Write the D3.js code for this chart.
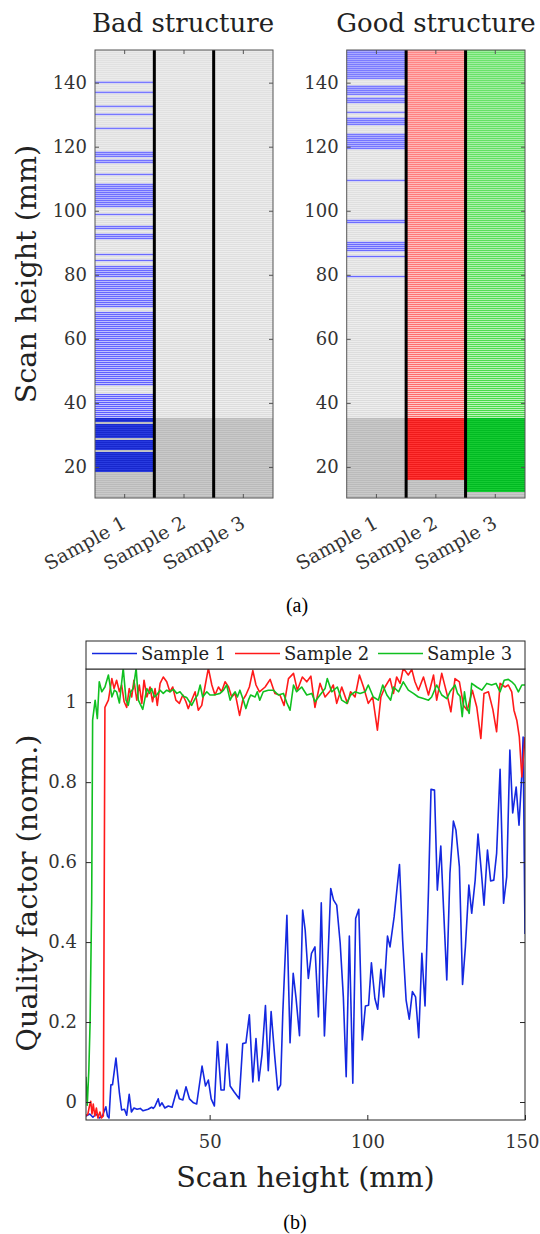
<!DOCTYPE html>
<html><head><meta charset="utf-8">
<script src="https://cdn.jsdelivr.net/npm/d3@7"></script>
<style>body{margin:0;background:#fff} svg{display:block}</style>
</head><body>
<svg id="c" width="540" height="1234"></svg>
<script>
// ---------------- DATA ----------------
const samples = ["Sample 1", "Sample 2", "Sample 3"];
const panelTitles = ["Bad structure", "Good structure"];
const heightTicks = [20, 40, 60, 80, 100, 120, 140];
const qualityTicks = [0, 0.2, 0.4, 0.6, 0.8, 1];
const scanTicks = [50, 100, 150];
const scanStart = 10.3, scanEnd = 150.2, scanStep = 0.625;
const shadedBelow = 35.5;

// scan heights (mm) flagged per sample, as [from, to] intervals
const badS1 = [[139.6,140.2],[136.6,137.2],[131.9,133.1],[129.6,130.2],[125.1,125.7],[116.8,118.2],[115.4,116.2],[114.5,115.0],[110.9,111.5],[101.2,108.4],[98.4,99.0],[93.9,95.1],[90.7,93.0],[85.9,86.5],[84.3,84.9],[79.3,82.6],[69.4,78.4],[45.0,68.6],[35.5,43.0],[34.2,35.5],[29.2,33.5],[25.3,28.5],[18.4,24.6]];
const badS2 = [];
const badS3 = [];
const goodS1 = [[140.8,150.2],[136.2,138.8],[133.6,135.6],[130.6,131.2],[126.8,128.9],[119.0,124.2],[109.0,109.6],[96.1,97.1],[87.2,90.3],[85.1,85.7],[79.1,79.7]];
const goodS2 = [[16.2,150.2]];
const goodS3 = [[12.4,150.2]];

// quality factor vs scan height: [height mm, quality]
const sample1Line = [[10.8,-0.035],[12,-0.03],[13,-0.038],[14,-0.03],[15,-0.04],[16,-0.035],[17.1,-0.012],[17.6,-0.035],[18.1,-0.04],[18.7,0.043],[19.2,0.043],[20.3,0.11],[21.4,0.022],[22.1,-0.02],[23,-0.018],[23.7,-0.033],[24.5,0.019],[25.2,-0.025],[26,-0.015],[27,-0.018],[28,-0.016],[28.9,-0.022],[29.7,-0.02],[30.5,-0.018],[31.6,-0.013],[32.1,-0.016],[32.6,-0.012],[33.7,0.008],[34.2,-0.01],[34.9,-0.002],[35.8,-0.015],[36.9,-0.01],[38.1,-0.013],[39.6,0.03],[40.4,0.008],[41.5,0.005],[42.5,0.038],[43.6,0.008],[44.9,-0.002],[45.9,-0.005],[47.6,0.09],[48.7,0.04],[49.6,0.055],[50.5,0.008],[51.5,-0.01],[52.5,0.151],[53.6,0.03],[54.6,0.03],[55.5,0.145],[56.5,0.04],[57.8,0.025],[59.4,0.008],[60.5,0.146],[61.5,0.148],[62.6,0.218],[63.7,0.05],[64.7,0.159],[65.6,0.053],[66.6,0.118],[67.7,0.241],[68.6,0.078],[69.5,0.226],[70.6,0.118],[71.6,0.03],[72.5,0.043],[73.2,0.222],[74.5,0.467],[75.5,0.148],[76.5,0.322],[77.4,0.26],[78.5,0.166],[79.5,0.48],[80.3,0.43],[81.3,0.309],[82.3,0.372],[83.4,0.388],[84.5,0.213],[85.4,0.498],[86.4,0.165],[87.5,0.355],[88.4,0.534],[89.3,0.505],[90.3,0.4925],[91.4,0.397],[92.4,0.263],[93.3,0.063],[94.3,0.415],[95.4,0.047],[96.3,0.459],[97.3,0.482],[98.4,0.155],[99.4,0.24],[100.4,0.242],[101.3,0.348],[102.4,0.259],[103.3,0.232],[104.3,0.332],[105.2,0.263],[106.4,0.415],[107.2,0.388],[108.5,0.463],[110.2,0.594],[111.2,0.405],[112.3,0.255],[113.3,0.207],[114.3,0.276],[115.3,0.263],[116.3,0.161],[117.3,0.372],[118.3,0.24],[119.4,0.53],[120.2,0.782],[121.3,0.78],[122.2,0.53],[123.3,0.64],[124.2,0.48],[125.2,0.305],[126.2,0.572],[127.3,0.7025],[128.1,0.68],[129.2,0.588],[130.2,0.294],[131.1,0.388],[132.2,0.5425],[133.1,0.472],[134.2,0.555],[135.1,0.67],[136.2,0.572],[137,0.4925],[138.1,0.63],[139.1,0.553],[140.1,0.555],[141,0.622],[142.1,0.832],[143.2,0.497],[144.2,0.563],[145.2,0.88],[146.1,0.723],[147.2,0.788],[148.1,0.6925],[149,0.82],[149.4,0.913],[150,0.42]];

const sample2Line = [[10.8,-0.035],[11.4,-0.03],[11.9,-0.01],[12.3,0.002],[12.7,-0.03],[13.1,-0.005],[13.6,-0.035],[14.1,-0.015],[14.6,-0.04],[15.2,-0.025],[15.7,-0.04],[16.3,-0.035],[16.8,0.987],[17.9,1.005],[19.0,1.059],[19.7,1.034],[20.5,1.055],[21.4,1.026],[22.1,1.043],[22.9,1.001],[23.7,0.987],[24.5,1.034],[25.3,1.013],[26.0,1.055],[26.9,1.005],[27.7,1.043],[28.5,0.997],[29.2,1.055],[30.1,1.013],[31.1,1.038],[31.9,1.001],[32.7,1.034],[33.4,0.992],[34.3,1.047],[35.3,1.063],[36.4,1.051],[37.4,1.026],[38.3,1.038],[39.3,1.005],[40.4,0.997],[41.5,1.018],[42.5,1.001],[43.2,0.984],[44.3,1.005],[45.4,1.026],[46.4,0.98],[47.5,0.992],[48.5,1.038],[49.6,1.085],[50.7,1.043],[51.7,1.018],[52.8,1.038],[53.8,1.026],[54.9,1.051],[56.0,1.038],[57.0,1.013],[58.1,1.022],[59.5,0.967],[60.5,1.005],[61.5,1.018],[62.6,1.038],[63.7,1.079],[64.7,1.043],[65.8,1.026],[67.6,1.038],[69.2,1.057],[70.7,1.022],[72.3,1.018],[73.6,0.992],[75.0,1.059],[76.6,1.072],[77.8,1.03],[79.4,1.063],[80.8,1.051],[82.1,1.065],[83.4,0.987],[85.0,1.047],[86.6,1.013],[88.2,1.028],[89.2,1.043],[90.3,0.997],[91.9,1.038],[93.7,0.997],[94.7,1.026],[96.1,1.013],[97.5,1.068],[98.8,1.038],[100.3,0.997],[101.7,1.013],[103.2,0.93],[104.3,1.013],[105.6,1.038],[107.2,1.059],[108.3,1.022],[109.3,1.063],[110.4,1.047],[111.4,1.085],[113.0,1.068],[114.1,1.082],[115.1,1.051],[116.2,1.03],[117.8,1.063],[119.4,1.018],[121.0,1.068],[122.0,1.005],[123.6,1.072],[125.2,1.022],[126.5,0.976],[127.8,1.059],[129.2,1.051],[130.5,0.992],[131.7,0.98],[133.3,1.03],[134.7,0.988],[136.0,0.909],[137.0,1.022],[138.4,1.026],[139.8,0.982],[141.0,0.926],[142.1,1.047],[143.7,1.038],[144.7,1.043],[145.8,1.026],[146.5,0.98],[147.4,0.955],[148.2,0.913],[149.0,0.813],[150.0,0.913]];

const sample3Line = [[10.8,0.063],[11.2,-0.008],[11.7,0.08],[12.1,0.2],[12.6,0.5],[12.9,0.955],[13.7,1.005],[14.4,0.959],[15.0,1.051],[15.8,1.026],[16.8,1.038],[17.9,1.068],[19.0,1.013],[19.8,1.03],[20.5,1.026],[21.4,0.998],[22.6,1.085],[23.5,1.005],[24.2,0.992],[25.0,1.026],[25.8,1.034],[26.7,1.085],[27.4,1.005],[28.8,0.982],[30.1,1.034],[30.9,1.022],[31.6,1.034],[32.5,1.013],[33.2,1.018],[34.3,1.03],[35.3,1.022],[36.4,1.03],[37.4,1.026],[38.5,1.032],[39.6,1.022],[40.6,1.026],[41.7,1.015],[42.7,1.012],[43.6,1.001],[44.3,0.992],[45.4,1.009],[46.2,1.018],[47.0,1.043],[47.8,1.013],[49.1,1.026],[50.1,1.018],[51.2,1.018],[52.3,1.02],[53.3,1.022],[54.4,1.03],[55.4,1.043],[56.5,1.005],[57.3,1.018],[58.1,1.026],[58.8,1.013],[59.6,1.03],[60.7,1.005],[61.5,0.984],[62.3,1.005],[63.0,1.018],[64.4,1.013],[65.1,1.026],[65.9,1.005],[67.0,1.026],[68.6,1.03],[70.2,1.03],[71.8,1.018],[73.4,1.022],[74.5,0.998],[75.5,0.98],[76.6,1.043],[77.6,1.026],[79.2,1.038],[80.8,1.018],[82.4,1.022],[83.4,1.001],[85.0,1.018],[86.6,1.034],[87.3,1.059],[88.7,1.026],[90.5,1.038],[91.9,1.005],[93.5,0.997],[94.7,1.018],[96.1,1.026],[97.7,1.022],[99.3,1.026],[100.3,1.043],[101.9,1.013],[103.5,1.005],[104.9,1.043],[106.2,1.018],[107.4,1.005],[108.3,1.038],[109.9,1.026],[111.4,1.051],[113.0,1.03],[114.6,1.022],[116.2,1.013],[117.8,1.009],[119.4,1.005],[120.4,1.013],[122.0,1.043],[123.6,1.018],[125.2,1.009],[126.2,1.026],[127.8,1.043],[128.6,1.022],[129.4,1.015],[130.1,0.964],[130.8,1.026],[131.5,0.988],[132.3,0.972],[133.1,1.047],[134.7,1.038],[136.3,1.03],[137.9,1.047],[139.4,1.043],[140.8,1.047],[142.1,1.026],[143.4,1.055],[144.7,1.057],[145.8,1.051],[146.8,1.043],[147.9,1.026],[149.0,1.043],[150.0,1.043]];

// ---------------- STYLE ----------------
const serif = "'DejaVu Serif', serif";
const textCol = "#333";
const pal = {
  grey:  {light:{bg:"#efefef", ln:"#dadada"}, dark:{bg:"#cacaca", ln:"#bababa"}},
  blue:  {light:{bg:"#cacaff", ln:"#5050ff"}, dark:{bg:"#2a3ce0", ln:"#1626cc"}},
  red:   {light:{bg:"#ffd0d0", ln:"#ff5c5c"}, dark:{bg:"#ff3434", ln:"#ee1a1a"}},
  green: {light:{bg:"#c4f6c4", ln:"#3ad83a"}, dark:{bg:"#16cc34", ln:"#00ba22"}}
};
const sampleHue = ["blue", "red", "green"];
const lineCol = ["#1428e0", "#ff1a1a", "#10c020"];

const svg = d3.select("#c");

// ---------------- TOP PANELS ----------------
const yTop = d3.scaleLinear().domain([10.3, 150.2]).range([498, 50]);
const scanLines = d3.range(scanStart, scanEnd - 1e-9, scanStep);
const panels = [
  {title: panelTitles[0], x0: 95, x1: 273, cols: [badS1, badS2, badS3], tcx: 183},
  {title: panelTitles[1], x0: 346.7, x1: 525, cols: [goodS1, goodS2, goodS3], tcx: 436}
];
const defs = svg.append("defs");

panels.forEach((p, pi) => {
  const xb = d3.scaleBand().domain(samples).range([p.x0, p.x1]);
  const clipId = "pclip" + pi;
  defs.append("clipPath").attr("id", clipId).append("rect")
    .attr("x", p.x0).attr("y", yTop(150.2)).attr("width", p.x1 - p.x0).attr("height", yTop(10.3) - yTop(150.2));
  const g = svg.append("g").attr("clip-path", `url(#${clipId})`);
  samples.forEach((s, si) => {
    const iv = p.cols[si];
    const cells = scanLines.map(h => {
      const mid = h + scanStep / 2;
      const on = iv.some(([a, b]) => mid >= a && mid <= b);
      const zone = mid < shadedBelow ? "dark" : "light";
      return {h, c: pal[on ? sampleHue[si] : "grey"][zone]};
    });
    const cg = g.append("g");
    cg.selectAll("rect.bg").data(cells).join("rect").attr("class", "bg")
      .attr("x", xb(s)).attr("width", xb.bandwidth())
      .attr("y", d => yTop(d.h + scanStep)).attr("height", d => yTop(d.h) - yTop(d.h + scanStep) + 0.05)
      .attr("fill", d => d.c.bg);
    cg.selectAll("rect.ln").data(cells).join("rect").attr("class", "ln")
      .attr("x", xb(s)).attr("width", xb.bandwidth())
      .attr("y", d => yTop(d.h + scanStep)).attr("height", 0.95)
      .attr("fill", d => d.c.ln);
  });
  // dividers
  [samples[1], samples[2]].forEach(s => {
    svg.append("line").attr("x1", xb(s)).attr("x2", xb(s)).attr("y1", 50).attr("y2", 498)
      .attr("stroke", "#000").attr("stroke-width", 3);
  });
  // frame
  svg.append("rect").attr("x", p.x0).attr("y", 50).attr("width", p.x1 - p.x0).attr("height", 448)
    .attr("fill", "none").attr("stroke", "#555").attr("stroke-width", 1);
  // axes
  const ay = svg.append("g").attr("transform", `translate(${p.x0},0)`)
    .call(d3.axisLeft(yTop).tickValues(heightTicks).tickSizeInner(-4).tickSizeOuter(0).tickPadding(8).tickFormat(d3.format("d")));
  const ayr = svg.append("g").attr("transform", `translate(${p.x1},0)`)
    .call(d3.axisRight(yTop).tickValues(heightTicks).tickSizeInner(-4).tickSizeOuter(0).tickFormat(""));
  const axb = svg.append("g").attr("transform", `translate(0,498)`)
    .call(d3.axisBottom(xb).tickSizeInner(-4).tickSizeOuter(0));
  const axt = svg.append("g").attr("transform", `translate(0,50)`)
    .call(d3.axisTop(xb).tickSizeInner(-4).tickSizeOuter(0).tickFormat(""));
  [ay, ayr, axb, axt].forEach(a => {
    a.select(".domain").remove();
    a.selectAll(".tick line").attr("stroke", "#555");
    a.selectAll("text").attr("font-family", serif).attr("font-size", 18).attr("fill", textCol);
  });
  axb.selectAll("text").attr("y", null).attr("dy", null).attr("font-size", 19)
    .attr("text-anchor", "end").attr("transform", "translate(3,29) rotate(-29)");
  // title
  svg.append("text").attr("x", p.tcx).attr("y", 32).attr("text-anchor", "middle")
    .attr("font-family", serif).attr("font-size", 26).attr("fill", "#222").text(p.title);
});

svg.append("text").attr("transform", "translate(36,274) rotate(-90)").attr("text-anchor", "middle")
  .attr("font-family", serif).attr("font-size", 28.6).attr("fill", "#222").text("Scan height (mm)");

svg.append("text").attr("x", 297).attr("y", 612).attr("text-anchor", "middle")
  .attr("font-family", "'Liberation Serif', serif").attr("font-size", 20).attr("fill", "#000").text("(a)");

// ---------------- BOTTOM PLOT ----------------
const xB = d3.scaleLinear().domain([10.8, 150]).range([86, 525]);
const yB = d3.scaleLinear().domain([-0.045, 1.083]).range([1120, 669]);
defs.append("clipPath").attr("id", "bclip").append("rect")
  .attr("x", 86).attr("y", 669).attr("width", 439).attr("height", 451);

const lineGen = d3.line().x(d => xB(d[0])).y(d => yB(d[1]));
const lg = svg.append("g").attr("clip-path", "url(#bclip)");
[sample1Line, sample2Line, sample3Line].forEach((data, i) => {
  lg.append("path").datum(data).attr("d", lineGen).attr("fill", "none")
    .attr("stroke", lineCol[i]).attr("stroke-width", 1.6).attr("stroke-linejoin", "round");
});

svg.append("rect").attr("x", 86).attr("y", 669).attr("width", 439).attr("height", 451)
  .attr("fill", "none").attr("stroke", "#262626").attr("stroke-width", 1);

const bx = svg.append("g").attr("transform", "translate(0,1120)")
  .call(d3.axisBottom(xB).tickValues(scanTicks).tickSizeInner(-5).tickSizeOuter(0).tickPadding(15).tickFormat(d3.format("d")));
const by = svg.append("g").attr("transform", "translate(86,0)")
  .call(d3.axisLeft(yB).tickValues(qualityTicks).tickSizeInner(-5).tickSizeOuter(0).tickPadding(9).tickFormat(d => d === 0 ? "0" : d === 1 ? "1" : d3.format(".1f")(d)));
const byr = svg.append("g").attr("transform", "translate(525,0)")
  .call(d3.axisRight(yB).tickValues(qualityTicks).tickSizeInner(-5).tickSizeOuter(0).tickFormat(""));
[bx, by, byr].forEach(a => {
  a.select(".domain").remove();
  a.selectAll(".tick line").attr("stroke", "#262626");
  a.selectAll("text").attr("font-family", serif).attr("font-size", 18).attr("fill", textCol);
});
// keep the last x label inside the page
bx.selectAll("text").filter(d => d === 150).attr("text-anchor", "end").attr("x", 14);

// legend
svg.append("rect").attr("x", 86).attr("y", 641).attr("width", 439).attr("height", 28)
  .attr("fill", "#fff").attr("stroke", "#262626").attr("stroke-width", 1);
const legX = [92, 235, 378];
samples.forEach((s, i) => {
  svg.append("line").attr("x1", legX[i]).attr("x2", legX[i] + 45).attr("y1", 653.5).attr("y2", 653.5)
    .attr("stroke", lineCol[i]).attr("stroke-width", 1.3);
  svg.append("text").attr("x", legX[i] + 49).attr("y", 660).attr("font-family", serif)
    .attr("font-size", 18).attr("fill", "#222").text(s);
});

svg.append("text").attr("x", 305.5).attr("y", 1187).attr("text-anchor", "middle")
  .attr("font-family", serif).attr("font-size", 28.6).attr("fill", "#222").text("Scan height (mm)");
svg.append("text").attr("transform", "translate(37,893) rotate(-90)").attr("text-anchor", "middle")
  .attr("font-family", serif).attr("font-size", 28.6).attr("fill", "#222").text("Quality factor (norm.)");
svg.append("text").attr("x", 295).attr("y", 1229).attr("text-anchor", "middle")
  .attr("font-family", "'Liberation Serif', serif").attr("font-size", 20).attr("fill", "#000").text("(b)");
</script>
</body></html>
